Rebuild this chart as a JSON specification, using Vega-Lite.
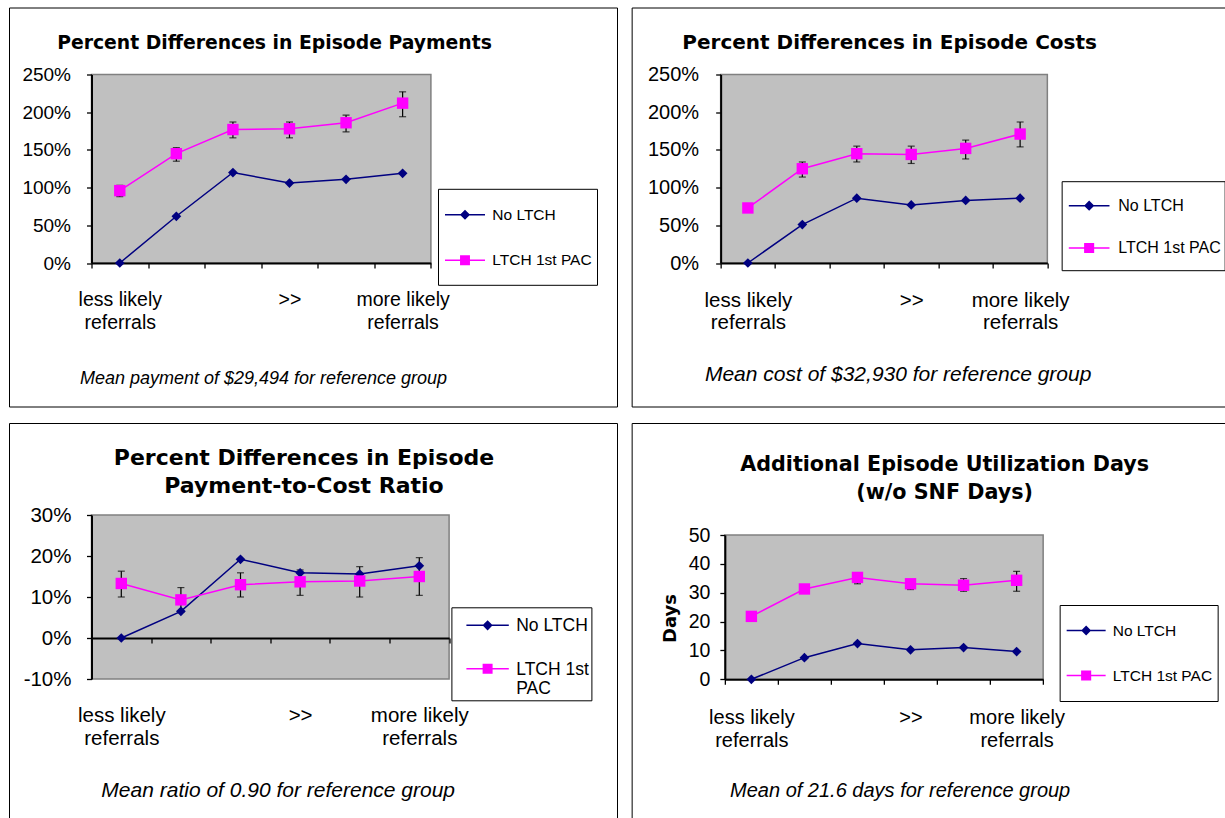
{
  "$schema": "https://vega.github.io/schema/vega-lite/v6.json",
  "padding": {"left": 7.5, "top": 6.5, "right": 0, "bottom": 0},
  "background": "white",
  "datasets": {
    "pay": [
      {"g": 1, "s": "No LTCH", "v": 0}, {"g": 2, "s": "No LTCH", "v": 62}, {"g": 3, "s": "No LTCH", "v": 120},
      {"g": 4, "s": "No LTCH", "v": 106}, {"g": 5, "s": "No LTCH", "v": 111}, {"g": 6, "s": "No LTCH", "v": 119},
      {"g": 1, "s": "LTCH 1st PAC", "v": 96, "lo": 88, "hi": 103}, {"g": 2, "s": "LTCH 1st PAC", "v": 145, "lo": 135, "hi": 153},
      {"g": 3, "s": "LTCH 1st PAC", "v": 177, "lo": 166, "hi": 187}, {"g": 4, "s": "LTCH 1st PAC", "v": 178, "lo": 166, "hi": 187},
      {"g": 5, "s": "LTCH 1st PAC", "v": 186, "lo": 174, "hi": 196}, {"g": 6, "s": "LTCH 1st PAC", "v": 212, "lo": 194, "hi": 227}
    ],
    "cost": [
      {"g": 1, "s": "No LTCH", "v": 0}, {"g": 2, "s": "No LTCH", "v": 51}, {"g": 3, "s": "No LTCH", "v": 86},
      {"g": 4, "s": "No LTCH", "v": 77}, {"g": 5, "s": "No LTCH", "v": 83}, {"g": 6, "s": "No LTCH", "v": 86},
      {"g": 1, "s": "LTCH 1st PAC", "v": 73, "lo": 69, "hi": 77}, {"g": 2, "s": "LTCH 1st PAC", "v": 125, "lo": 114, "hi": 134},
      {"g": 3, "s": "LTCH 1st PAC", "v": 145, "lo": 134, "hi": 155}, {"g": 4, "s": "LTCH 1st PAC", "v": 144, "lo": 132, "hi": 155},
      {"g": 5, "s": "LTCH 1st PAC", "v": 152, "lo": 138, "hi": 163}, {"g": 6, "s": "LTCH 1st PAC", "v": 171, "lo": 154, "hi": 187}
    ],
    "ratio": [
      {"g": 1, "s": "No LTCH", "v": 0}, {"g": 2, "s": "No LTCH", "v": 6.5}, {"g": 3, "s": "No LTCH", "v": 19.2},
      {"g": 4, "s": "No LTCH", "v": 15.9}, {"g": 5, "s": "No LTCH", "v": 15.6}, {"g": 6, "s": "No LTCH", "v": 17.6},
      {"g": 1, "s": "LTCH 1st PAC", "v": 13.3, "lo": 10.0, "hi": 16.3}, {"g": 2, "s": "LTCH 1st PAC", "v": 9.3, "lo": 6.3, "hi": 12.3},
      {"g": 3, "s": "LTCH 1st PAC", "v": 13.0, "lo": 10.0, "hi": 15.9}, {"g": 4, "s": "LTCH 1st PAC", "v": 13.7, "lo": 10.4, "hi": 16.6},
      {"g": 5, "s": "LTCH 1st PAC", "v": 13.9, "lo": 10.0, "hi": 17.4}, {"g": 6, "s": "LTCH 1st PAC", "v": 15.0, "lo": 10.4, "hi": 19.6}
    ],
    "days": [
      {"g": 1, "s": "No LTCH", "v": 0}, {"g": 2, "s": "No LTCH", "v": 7.5}, {"g": 3, "s": "No LTCH", "v": 12.4},
      {"g": 4, "s": "No LTCH", "v": 10.2}, {"g": 5, "s": "No LTCH", "v": 11.0}, {"g": 6, "s": "No LTCH", "v": 9.6},
      {"g": 1, "s": "LTCH 1st PAC", "v": 21.8, "lo": 21.0, "hi": 22.6}, {"g": 2, "s": "LTCH 1st PAC", "v": 31.3, "lo": 30.3, "hi": 32.3},
      {"g": 3, "s": "LTCH 1st PAC", "v": 35.3, "lo": 33.1, "hi": 36.5}, {"g": 4, "s": "LTCH 1st PAC", "v": 33.1, "lo": 31.1, "hi": 34.5},
      {"g": 5, "s": "LTCH 1st PAC", "v": 32.6, "lo": 30.5, "hi": 34.9}, {"g": 6, "s": "LTCH 1st PAC", "v": 34.3, "lo": 30.5, "hi": 37.4}
    ]
  },
  "config": {
    "view": {"fill": "#C0C0C0", "stroke": "#808080", "strokeWidth": 1.5},
    "font": "Liberation Sans",
    "title": {"font": "DejaVu Sans", "fontWeight": "bold", "color": "black", "anchor": "middle", "frame": "group", "lineHeight": 28},
    "axis": {"domainColor": "black", "domainWidth": 2, "tickColor": "black", "tickWidth": 1.3, "tickSize": 5,
             "labelColor": "black", "labelFont": "Liberation Sans", "titleColor": "black", "titleFont": "Liberation Sans",
             "titleFontWeight": "normal", "gridColor": "black", "gridWidth": 1.2, "labelOverlap": false, "labelBound": false, "labelFlush": false},
    "axisX": {"titleFontStyle": "italic", "titleBaseline": "middle", "titleAlign": "center", "grid": false, "labelAngle": 0, "tickBand": "extent"},
    "axisY": {"grid": true},
    "legend": {"labelFont": "Liberation Sans", "labelColor": "black", "strokeColor": "black", "fillColor": "white", "symbolStrokeWidth": 1.5, "title": null}
  },
  "spacing": 11,
  "resolve": {"scale": {"color": "independent"}, "legend": {"color": "independent"}},
  "hconcat": [
    {
      "bounds": "flush",
      "spacing": 251.5,
      "resolve": {"scale": {"color": "independent"}, "legend": {"color": "independent"}},
      "vconcat": [
        {
          "width": 339.4, "height": 188.5,
          "title": {"text": "Percent Differences in Episode Payments", "fontSize": 18.8, "offset": -45, "dx": 13.3},
          "resolve": {"scale": {"x": "independent", "y": "independent"}},
          "layer": [
            {
              "data": {"values": [{}]},
              "mark": {"type": "rect", "fill": "transparent", "stroke": "black", "strokeWidth": 1},
              "encoding": {
                "x": {"datum": 0, "type": "quantitative", "scale": {"domain": [0, 1], "range": [-82, 526]}, "axis": null},
                "x2": {"datum": 1},
                "y": {"datum": 0, "type": "quantitative", "scale": {"domain": [0, 1], "range": [-66.5, 332.5]}, "axis": null},
                "y2": {"datum": 1}
              }
            },
            {
              "data": {"name": "pay"},
              "encoding": {
                "x": {"field": "g", "type": "ordinal", "scale": {"type": "band", "paddingInner": 0, "paddingOuter": 0},
                      "axis": {"orient": "bottom", "title": "Mean payment of $29,494 for reference group", "titleFontSize": 18,
                               "titleX": 171.5, "titleY": 115,
                               "labelExpr": "datum.value == 1 ? ['less likely', 'referrals'] : datum.value == 4 ? '>>' : datum.value == 6 ? ['more likely', 'referrals'] : ''",
                               "labelFontSize": 19.5, "labelLineHeight": 23, "labelPadding": 22}},
                "y": {"field": "v", "type": "quantitative", "scale": {"domain": [0, 250], "nice": false},
                      "axis": {"orient": "left", "title": null, "values": [0, 50, 100, 150, 200, 250], "labelExpr": "datum.value + '%'",
                               "labelFontSize": 19, "labelPadding": 16,
                               "gridColor": {"condition": {"test": "datum.value >= 250", "value": "transparent"}, "value": "black"}}}
              },
              "layer": [
                {"mark": {"type": "line", "strokeWidth": 1.5},
                 "encoding": {"color": {"field": "s", "type": "nominal", "scale": {"domain": ["No LTCH", "LTCH 1st PAC"], "range": ["#000080", "#FF00FF"]},
                   "legend": {"orient": "none", "legendX": 346.5, "legendY": 114.3, "padding": 5, "rowPadding": 4.4, "labelFontSize": 15.5, "labelOffset": 6.3, "symbolSize": 1600, "symbolOffset": 1,
                     "symbolType": {"expr": "datum.value === 'No LTCH' ? 'M0,-0.825M0,0.825M-1,0L1,0M-0.2,0L0,-0.2L0.2,0L0,0.2Z' : 'M0,-0.825M0,0.825M-1,0L1,0M-0.21,-0.21L0.21,-0.21L0.21,0.21L-0.21,0.21Z'"}}}}},
                {"transform": [{"filter": "isValid(datum.lo)"}],
                 "mark": {"type": "errorbar", "ticks": {"size": 7}, "color": "black", "thickness": 1.2},
                 "encoding": {"y": {"field": "lo", "type": "quantitative"}, "y2": {"field": "hi"}}},
                {"transform": [{"filter": "datum.s === 'No LTCH'"}],
                 "mark": {"type": "point", "shape": "diamond", "size": 95, "filled": true, "opacity": 1},
                 "encoding": {"color": {"field": "s", "type": "nominal"}}},
                {"transform": [{"filter": "datum.s === 'LTCH 1st PAC'"}],
                 "mark": {"type": "point", "shape": "square", "size": 130, "filled": true, "opacity": 1},
                 "encoding": {"color": {"field": "s", "type": "nominal"}}}
              ]
            }
          ]
        },
        {
          "width": 357.6, "height": 164,
          "title": {"text": ["Percent Differences in Episode", "Payment-to-Cost Ratio"], "fontSize": 22, "offset": -74.9, "dx": 33.7},
          "resolve": {"scale": {"x": "independent", "y": "independent"}},
          "layer": [
            {
              "data": {"values": [{}]},
              "mark": {"type": "rect", "fill": "transparent", "stroke": "black", "strokeWidth": 1},
              "encoding": {
                "x": {"datum": 0, "type": "quantitative", "scale": {"domain": [0, 1], "range": [-82, 526]}, "axis": null},
                "x2": {"datum": 1},
                "y": {"datum": 0, "type": "quantitative", "scale": {"domain": [0, 1], "range": [-91.5, 320]}, "axis": null},
                "y2": {"datum": 1}
              }
            },
            {
              "data": {"name": "ratio"},
              "encoding": {
                "x": {"field": "g", "type": "ordinal", "scale": {"type": "band", "paddingInner": 0, "paddingOuter": 0},
                      "axis": {"orient": "bottom", "offset": -41, "title": "Mean ratio of 0.90 for reference group", "titleFontSize": 21,
                               "titleX": 186.2, "titleY": 152,
                               "labelExpr": "datum.value == 1 ? ['less likely', 'referrals'] : datum.value == 4 ? '>>' : datum.value == 6 ? ['more likely', 'referrals'] : ''",
                               "labelFontSize": 20.5, "labelLineHeight": 23.3, "labelPadding": 62}},
                "y": {"field": "v", "type": "quantitative", "scale": {"domain": [-10, 30], "nice": false},
                      "axis": {"orient": "left", "title": null, "values": [-10, 0, 10, 20, 30], "labelExpr": "datum.value + '%'",
                               "labelFontSize": 20.5, "labelPadding": 15.5,
                               "gridColor": {"condition": {"test": "datum.value >= 30 || datum.value <= -10", "value": "transparent"}, "value": "black"}}}
              },
              "layer": [
                {"mark": {"type": "line", "strokeWidth": 1.5},
                 "encoding": {"color": {"field": "s", "type": "nominal", "scale": {"domain": ["No LTCH", "LTCH 1st PAC"], "range": ["#000080", "#FF00FF"]},
                   "legend": {"orient": "none", "legendX": 359.9, "legendY": 92.3, "padding": 2, "rowPadding": 17.4, "labelFontSize": 17.5, "labelOffset": 6.6, "symbolSize": 1798, "symbolOffset": 12.2,
                     "labelBaseline": "alphabetic",
                     "labelExpr": "datum.label == 'LTCH 1st PAC' ? ['LTCH 1st', 'PAC'] : datum.label",
                     "symbolType": {"expr": "datum.value === 'No LTCH' ? 'M-1,-0.28L1,-0.28M-0.19,-0.28L0,-0.47L0.19,-0.28L0,-0.09Z' : 'M-1,-0.28L1,-0.28M-0.2,-0.48L0.2,-0.48L0.2,-0.08L-0.2,-0.08Z'"}}}}},
                {"transform": [{"filter": "isValid(datum.lo)"}],
                 "mark": {"type": "errorbar", "ticks": {"size": 7}, "color": "black", "thickness": 1.2},
                 "encoding": {"y": {"field": "lo", "type": "quantitative"}, "y2": {"field": "hi"}}},
                {"transform": [{"filter": "datum.s === 'No LTCH'"}],
                 "mark": {"type": "point", "shape": "diamond", "size": 95, "filled": true, "opacity": 1},
                 "encoding": {"color": {"field": "s", "type": "nominal"}}},
                {"transform": [{"filter": "datum.s === 'LTCH 1st PAC'"}],
                 "mark": {"type": "point", "shape": "square", "size": 130, "filled": true, "opacity": 1},
                 "encoding": {"color": {"field": "s", "type": "nominal"}}}
              ]
            }
          ]
        }
      ]
    },
    {
      "bounds": "flush",
      "spacing": 271.5,
      "center": true,
      "resolve": {"scale": {"color": "independent"}, "legend": {"color": "independent"}},
      "vconcat": [
        {
          "width": 326.7, "height": 188.5,
          "title": {"text": "Percent Differences in Episode Costs", "fontSize": 20, "offset": -45.2, "dx": 5.6},
          "resolve": {"scale": {"x": "independent", "y": "independent"}},
          "layer": [
            {
              "data": {"values": [{}]},
              "mark": {"type": "rect", "fill": "transparent", "stroke": "black", "strokeWidth": 1},
              "encoding": {
                "x": {"datum": 0, "type": "quantitative", "scale": {"domain": [0, 1], "range": [-88.5, 524]}, "axis": null},
                "x2": {"datum": 1},
                "y": {"datum": 0, "type": "quantitative", "scale": {"domain": [0, 1], "range": [-66.5, 332.5]}, "axis": null},
                "y2": {"datum": 1}
              }
            },
            {
              "data": {"name": "cost"},
              "encoding": {
                "x": {"field": "g", "type": "ordinal", "scale": {"type": "band", "paddingInner": 0, "paddingOuter": 0},
                      "axis": {"orient": "bottom", "title": "Mean cost of $32,930 for reference group", "titleFontSize": 21,
                               "titleX": 177, "titleY": 111.5,
                               "labelExpr": "datum.value == 1 ? ['less likely', 'referrals'] : datum.value == 4 ? '>>' : datum.value == 6 ? ['more likely', 'referrals'] : ''",
                               "labelFontSize": 20.5, "labelLineHeight": 22.5, "labelPadding": 22}},
                "y": {"field": "v", "type": "quantitative", "scale": {"domain": [0, 250], "nice": false},
                      "axis": {"orient": "left", "title": null, "values": [0, 50, 100, 150, 200, 250], "labelExpr": "datum.value + '%'",
                               "labelFontSize": 20, "labelPadding": 17,
                               "gridColor": {"condition": {"test": "datum.value >= 250", "value": "transparent"}, "value": "black"}}}
              },
              "layer": [
                {"mark": {"type": "line", "strokeWidth": 1.5},
                 "encoding": {"color": {"field": "s", "type": "nominal", "scale": {"domain": ["No LTCH", "LTCH 1st PAC"], "range": ["#000080", "#FF00FF"]},
                   "legend": {"orient": "none", "legendX": 341, "legendY": 106.7, "padding": 3, "rowPadding": 2.4, "labelFontSize": 16, "labelOffset": 7.6, "symbolSize": 1656, "symbolOffset": 3,
                     "symbolType": {"expr": "datum.value === 'No LTCH' ? 'M0,-0.76M0,0.76M-1,0L1,0M-0.2,0L0,-0.2L0.2,0L0,0.2Z' : 'M0,-0.76M0,0.76M-1,0L1,0M-0.21,-0.21L0.21,-0.21L0.21,0.21L-0.21,0.21Z'"}}}}},
                {"transform": [{"filter": "isValid(datum.lo)"}],
                 "mark": {"type": "errorbar", "ticks": {"size": 7}, "color": "black", "thickness": 1.2},
                 "encoding": {"y": {"field": "lo", "type": "quantitative"}, "y2": {"field": "hi"}}},
                {"transform": [{"filter": "datum.s === 'No LTCH'"}],
                 "mark": {"type": "point", "shape": "diamond", "size": 95, "filled": true, "opacity": 1},
                 "encoding": {"color": {"field": "s", "type": "nominal"}}},
                {"transform": [{"filter": "datum.s === 'LTCH 1st PAC'"}],
                 "mark": {"type": "point", "shape": "square", "size": 130, "filled": true, "opacity": 1},
                 "encoding": {"color": {"field": "s", "type": "nominal"}}}
              ]
            }
          ]
        },
        {
          "width": 318.3, "height": 144.3,
          "title": {"text": ["Additional Episode Utilization Days", "(w/o SNF Days)"], "fontSize": 20.7, "offset": -80.8, "dx": 60.6},
          "resolve": {"scale": {"x": "independent", "y": "independent"}},
          "layer": [
            {
              "data": {"values": [{}]},
              "mark": {"type": "rect", "fill": "transparent", "stroke": "black", "strokeWidth": 1},
              "encoding": {
                "x": {"datum": 0, "type": "quantitative", "scale": {"domain": [0, 1], "range": [-92.7, 520]}, "axis": null},
                "x2": {"datum": 1},
                "y": {"datum": 0, "type": "quantitative", "scale": {"domain": [0, 1], "range": [-111.5, 300]}, "axis": null},
                "y2": {"datum": 1}
              }
            },
            {
              "data": {"name": "days"},
              "encoding": {
                "x": {"field": "g", "type": "ordinal", "scale": {"type": "band", "paddingInner": 0, "paddingOuter": 0},
                      "axis": {"orient": "bottom", "title": "Mean of 21.6 days for reference group", "titleFontSize": 20,
                               "titleX": 174.8, "titleY": 110.7,
                               "labelExpr": "datum.value == 1 ? ['less likely', 'referrals'] : datum.value == 4 ? '>>' : datum.value == 6 ? ['more likely', 'referrals'] : ''",
                               "labelFontSize": 20, "labelLineHeight": 23.3, "labelPadding": 22.7}},
                "y": {"field": "v", "type": "quantitative", "scale": {"domain": [0, 50], "nice": false},
                      "axis": {"orient": "left", "title": "Days", "titleFont": "DejaVu Sans", "titleFontWeight": "bold", "titleFontSize": 18,
                               "titleAngle": -90, "titleX": -54.5, "titleY": 83, "titleAlign": "center", "titleBaseline": "middle",
                               "values": [0, 10, 20, 30, 40, 50], "labelFontSize": 19.5, "labelPadding": 10,
                               "gridColor": {"condition": {"test": "datum.value >= 50", "value": "transparent"}, "value": "black"}}}
              },
              "layer": [
                {"mark": {"type": "line", "strokeWidth": 1.5},
                 "encoding": {"color": {"field": "s", "type": "nominal", "scale": {"domain": ["No LTCH", "LTCH 1st PAC"], "range": ["#000080", "#FF00FF"]},
                   "legend": {"orient": "none", "legendX": 334.8, "legendY": 70, "padding": 5, "rowPadding": 4, "labelFontSize": 15.5, "labelOffset": 6.1, "symbolSize": 1521, "symbolOffset": 1,
                     "symbolType": {"expr": "datum.value === 'No LTCH' ? 'M0,-0.87M0,0.87M-1,0L1,0M-0.2,0L0,-0.2L0.2,0L0,0.2Z' : 'M0,-0.87M0,0.87M-1,0L1,0M-0.22,-0.22L0.22,-0.22L0.22,0.22L-0.22,0.22Z'"}}}}},
                {"transform": [{"filter": "isValid(datum.lo)"}],
                 "mark": {"type": "errorbar", "ticks": {"size": 7}, "color": "black", "thickness": 1.2},
                 "encoding": {"y": {"field": "lo", "type": "quantitative"}, "y2": {"field": "hi"}}},
                {"transform": [{"filter": "datum.s === 'No LTCH'"}],
                 "mark": {"type": "point", "shape": "diamond", "size": 95, "filled": true, "opacity": 1},
                 "encoding": {"color": {"field": "s", "type": "nominal"}}},
                {"transform": [{"filter": "datum.s === 'LTCH 1st PAC'"}],
                 "mark": {"type": "point", "shape": "square", "size": 130, "filled": true, "opacity": 1},
                 "encoding": {"color": {"field": "s", "type": "nominal"}}}
              ]
            }
          ]
        }
      ]
    }
  ]
}
